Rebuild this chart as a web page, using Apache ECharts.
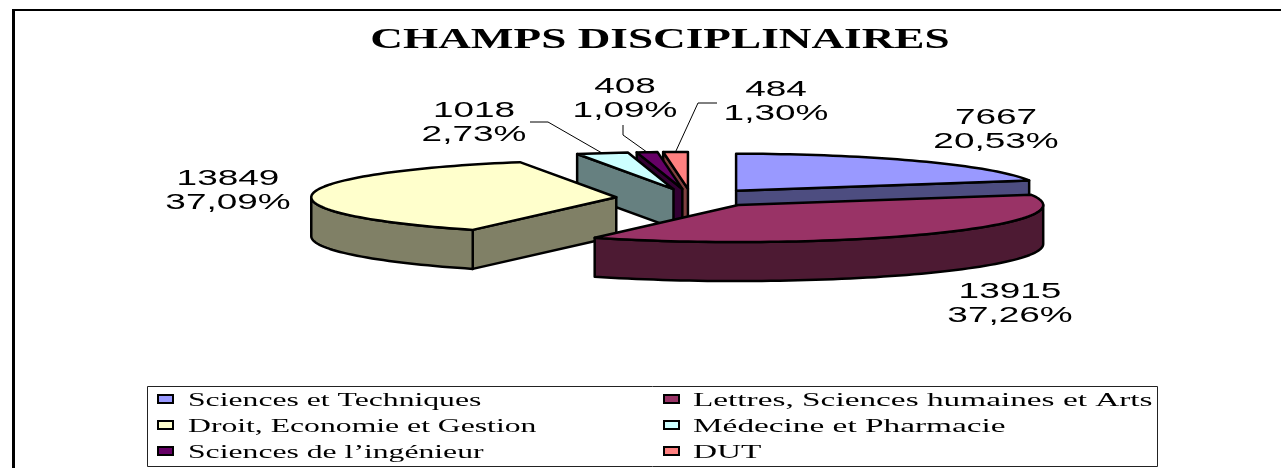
<!DOCTYPE html>
<html><head><meta charset="utf-8">
<style>html,body{margin:0;padding:0;background:#fff}#c{width:1281px;height:468px}</style>
<script src="https://cdn.jsdelivr.net/npm/echarts@6/dist/echarts.min.js"></script>
</head><body><div id="c"></div>
<script>
const categories = ['Sciences et Techniques','Lettres, Sciences humaines et Arts','Droit, Economie et Gestion','Médecine et Pharmacie','Sciences de l\u2019ingénieur','DUT'];
const values = [7667,13915,13849,1018,408,484];
const topColors = ['#9999FF','#993366','#FFFFCC','#CCFFFF','#660066','#FF8080'];
const sideColors = ['#4D4D80','#4D1A33','#808066','#668080','#330033','#804040'];
const paintRank = [3,5,4,2,1,0];
const titleText = 'CHAMPS DISCIPLINAIRES';
// layout
const geo = {cx:691, cy:198, rx:305, ry:37, depth:39, explode:75};
const labelCenters = [[996,130],[1010,304],[228,191],[474,123],[625,99],[776,102]];
const leaderElbows = [null,null,null,[[530,122],[548,122]],[[623,125],[623,135]],[[717,103],[698,103]]];
const legendCols = [[157,188,1.76],[663,693,1.85]];
const legendRows = [399,425,451];

const total = values.reduce((a,b)=>a+b,0);
const pct = v => (v/total*100).toFixed(2).replace('.',',')+'%';
const fracs = []; { let acc=0; values.forEach(v=>{fracs.push([acc/total,(acc+v)/total]);acc+=v;}); }
const TAU = Math.PI*2;

function renderSlice(params){
  const i = params.dataIndex;
  const a0 = fracs[i][0]*TAU, a1 = fracs[i][1]*TAU, am=(a0+a1)/2;
  const k = geo.ry/geo.rx;
  const ax = geo.cx + geo.explode*Math.sin(am);
  const ay = geo.cy - geo.explode*k*Math.cos(am);
  const rim = a => [ax+geo.rx*Math.sin(a), ay-geo.ry*Math.cos(a)];
  const down = p => [p[0],p[1]+geo.depth];
  const arc = (s,e)=>{const n=Math.max(2,Math.ceil((e-s)/0.03));const r=[];for(let j=0;j<=n;j++)r.push(rim(s+(e-s)*j/n));return r;};
  const stroke = {stroke:'#000',lineWidth:2.5,lineJoin:'round'};
  const poly=(pts,fill,z)=>({type:'polygon',z2:paintRank[i]*10+z,shape:{points:pts},style:Object.assign({fill},stroke)});
  const apex=[ax,ay], side=sideColors[i];
  const kids=[];
  // a radial wall shows only when it faces the viewer
  if(Math.sin(a0)<-1e-6){const p=rim(a0);kids.push(poly([apex,p,down(p),down(apex)],side,1));}
  if(Math.sin(a1)>1e-6){const p=rim(a1);kids.push(poly([apex,p,down(p),down(apex)],side,1));}
  const fs=Math.max(a0,Math.PI/2), fe=Math.min(a1,Math.PI*1.5);
  if(fe>fs){const t=arc(fs,fe);kids.push(poly(t.concat(t.slice().reverse().map(down)),side,2));}
  kids.push(poly([apex].concat(arc(a0,a1)),topColors[i],3));
  // data label
  const c=labelCenters[i];
  kids.push({type:'text',z2:100,x:c[0],y:c[1],scaleX:1.68,scaleY:1,style:{text:values[i]+'\n'+pct(values[i]),font:'22px "Liberation Sans"',lineHeight:24,fill:'#000',align:'center',verticalAlign:'middle'}});
  // leader line
  if(leaderElbows[i]){
    const e=rim(am);
    kids.push({type:'polyline',z2:99,shape:{points:leaderElbows[i].concat([e])},style:{stroke:'#000',lineWidth:1,fill:null}});
  }
  return {type:'group',children:kids};
}

const legendGraphics=[];
categories.forEach((name,i)=>{
  const col=legendCols[i%2], y=legendRows[Math.floor(i/2)];
  legendGraphics.push({type:'rect',shape:{x:col[0]+1,y:y-4,width:15,height:8},style:{fill:topColors[i],stroke:'#000',lineWidth:2}});
  legendGraphics.push({type:'text',x:col[1],y:y+2,scaleX:col[2],style:{text:name,font:'18px "Liberation Serif"',fill:'#000',align:'left',verticalAlign:'middle'}});
});

const chart=echarts.init(document.getElementById('c'),null,{renderer:'canvas'});
chart.setOption({
  animation:false,
  backgroundColor:'#fff',
  series:[{type:'custom',coordinateSystem:'none',silent:true,data:values.map((v,i)=>({name:categories[i],value:v})),renderItem:renderSlice,clip:false}],
  graphic:[
    {type:'polyline',shape:{points:[[13.5,470],[13.5,10]]},style:{stroke:'#000',lineWidth:3,fill:null}},
    {type:'polyline',shape:{points:[[12,10],[1285,10]]},style:{stroke:'#000',lineWidth:2,fill:null}},
    {type:'text',x:660,y:41,scaleX:1.56,style:{text:titleText,font:'bold 29px "Liberation Serif"',fill:'#000',align:'center',verticalAlign:'middle'}},
    {type:'rect',shape:{x:147.5,y:386.5,width:1010,height:80},style:{fill:'#fff',stroke:'#222',lineWidth:1}}
  ].concat(legendGraphics)
});
</script></body></html>
